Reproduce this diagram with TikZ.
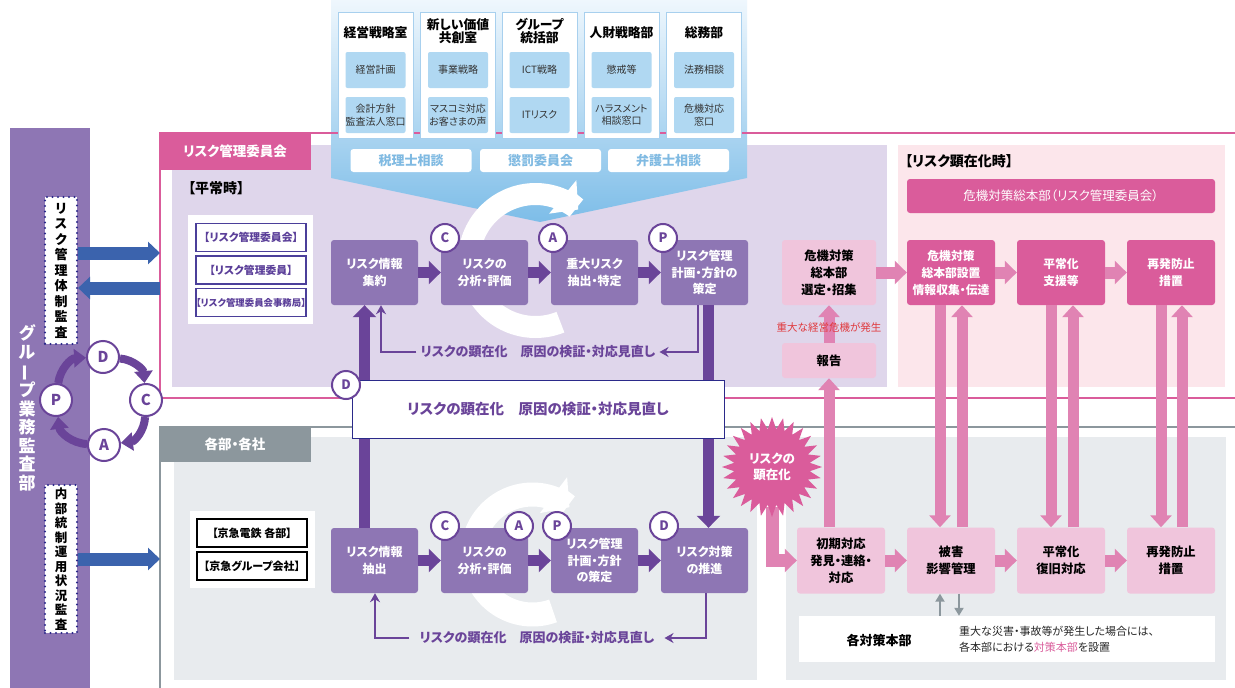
\documentclass[tikz,border=0pt]{standalone}
\usepackage{fontspec}
\setmainfont{Noto Sans CJK JP}[RawFeature={+palt}]
\usetikzlibrary{arrows.meta}
\definecolor{purpbox}{HTML}{8E76B4}
\definecolor{purpdk}{HTML}{6A4499}
\definecolor{lav}{HTML}{DFD6EB}
\definecolor{pinkdk}{HTML}{DA5C9B}
\definecolor{pinkarr}{HTML}{E083B3}
\definecolor{pinklt}{HTML}{F0C5DC}
\definecolor{pinkbg}{HTML}{FCE6EB}
\definecolor{graytab}{HTML}{8C979D}
\definecolor{graybg}{HTML}{E8EBEE}
\definecolor{bluearr}{HTML}{3B63AD}
\definecolor{bluelt}{HTML}{B0D8F2}
\definecolor{blueborder}{HTML}{A8D0EE}
\definecolor{bluetxt}{HTML}{80BAE2}
\definecolor{bluetop}{HTML}{EFF7FD}
\definecolor{bluebot}{HTML}{7DBDE8}
\definecolor{navy}{HTML}{2B2A8A}
\definecolor{redtxt}{HTML}{E03A3E}
\definecolor{listpurple}{HTML}{4B3F9A}
\definecolor{listtext}{HTML}{5B3F99}
\begin{document}
\begin{tikzpicture}[x=1pt,y=-1pt,
  pbox/.style={fill=purpbox, rounded corners=3pt, text=white, font=\fontsize{12}{16.5}\selectfont\bfseries, align=center, inner sep=0pt, minimum width=87pt, minimum height=65pt},
  rbox/.style={fill=pinkdk, rounded corners=3pt, text=white, font=\fontsize{11.8}{17}\selectfont\bfseries, align=center, inner sep=0pt, minimum width=88pt, minimum height=65pt},
  lbox/.style={fill=pinklt, rounded corners=3pt, text=black, font=\fontsize{12.3}{17}\selectfont\bfseries, align=center, inner sep=0pt, minimum width=88pt, minimum height=66pt},
  cyc/.style={circle, fill=white, draw=purpdk, line width=2pt, minimum size=28pt, inner sep=0pt, text=purpdk, font=\fontsize{13}{13}\selectfont\bfseries},
  parr/.style={draw=purpdk, line width=11pt, -{Triangle[width=23pt,length=12pt]}},
  pkarr/.style={draw=pinkarr, line width=12pt, -{Triangle[width=23pt,length=12pt]}},
  vkarr/.style={draw=pinkarr, line width=11pt, -{Triangle[width=21pt,length=12pt]}},
  fbl/.style={draw=purpdk, line width=2pt, -{Stealth[length=9pt,width=10pt]}},
  bla/.style={draw=bluearr, line width=13pt, -{Triangle[width=22pt,length=12pt]}},
  cyca/.style={draw=purpdk, line width=8pt, -{Triangle[width=18pt,length=12pt]}},
  ringarr/.style={draw=white, line width=22pt, -{Triangle[width=42pt,length=20pt]}},
  dept/.style={fill=white, draw=blueborder, line width=1pt, minimum width=75pt, minimum height=126pt, inner sep=0pt},
  inb/.style={fill=bluelt, rounded corners=2pt, minimum width=60pt, minimum height=36pt, inner sep=0pt, align=center, font=\fontsize{10}{12.5}\selectfont, text=black!80},
  dtitle/.style={align=center, font=\fontsize{12.8}{13.5}\selectfont\bfseries},
  btn/.style={fill=white, rounded corners=3pt, minimum width=121pt, minimum height=23pt, inner sep=0pt, text=bluetxt, font=\fontsize{13}{13}\selectfont\bfseries},
  audit/.style={fill=white, draw=navy, line width=2.2pt, dash pattern=on 0pt off 5.5pt, line cap=round, minimum width=32pt, inner sep=0pt, align=center, font=\fontsize{13}{15.5}\selectfont\bfseries},
  lst/.style={fill=white, draw=listpurple, line width=1.2pt, minimum width=110pt, minimum height=28pt, inner sep=0pt, text=listtext, font=\fontsize{10.8}{11}\selectfont\bfseries},
  lstk/.style={fill=white, draw=black, line width=1.2pt, minimum width=110pt, minimum height=28pt, inner sep=0pt, text=black, font=\fontsize{11}{11}\selectfont\bfseries},
  hdr/.style={font=\fontsize{14}{14}\selectfont\bfseries, anchor=west, inner sep=0pt},
  tabtxt/.style={text=white, font=\fontsize{13.5}{14}\selectfont\bfseries}
]
\useasboundingbox (0,0) rectangle (1235,688);
\fill[white] (0,0) rectangle (1235,688);

% ---------- backgrounds
\fill[lav] (172,145) rectangle (887,387);
\fill[pinkbg] (898,145) rectangle (1225,387);
\fill[graybg] (174,437) rectangle (757,680);
\fill[graybg] (786,437) rectangle (1226,680);
\shade[top color=bluetop, bottom color=bluebot] (331,0) -- (747,0) -- (747,178) -- (540,222) -- (331,178) -- cycle;
\draw[pinkdk, line width=2.5pt] (1240,133) -| (160,398) -- (1240,398);
\draw[graytab, line width=2.5pt] (160,690) -- (160,427) -- (1240,427);
\fill[pinkdk] (159,132) rectangle (311,170);
\node[tabtxt] (tabR) at (235,151.5) {リスク管理委員会};
\fill[graytab] (159,426) rectangle (311,462);
\node[tabtxt] (tabG) at (235,444.5) {各部・各社};

% ---------- left bar
\fill[purpbox] (10,128) rectangle (90,688);
\node[text=white, align=center, font=\fontsize{17}{18.5}\selectfont\bfseries] (gbar) at (27,408) {グ\\ル\\\rotatebox[origin=c]{90}{ー}\\プ\\業\\務\\監\\査\\部};

% ---------- department panel
\node[dept] (dep1) at (375.5,75) {};
\node[dtitle] (t1) at (375.5,33) {経営戦略室};
\node[inb] (i11) at (375.5,70) {経営計画};
\node[inb] (i12) at (375.5,115) {会計方針\\監査法人窓口};
\node[dept] (dep2) at (458,75) {};
\node[dtitle] (t2) at (458,31) {新しい価値\\共創室};
\node[inb] (i21) at (458,70) {事業戦略};
\node[inb] (i22) at (458,115) {マスコミ対応\\お客さまの声};
\node[dept] (dep3) at (539.5,75) {};
\node[dtitle] (t3) at (539.5,31) {グループ\\統括部};
\node[inb] (i31) at (539.5,70) {ICT戦略};
\node[inb] (i32) at (539.5,115) {ITリスク};
\node[dept] (dep4) at (621.5,75) {};
\node[dtitle] (t4) at (621.5,33) {人財戦略部};
\node[inb] (i41) at (621.5,70) {懲戒等};
\node[inb] (i42) at (621.5,115) {ハラスメント\\相談窓口};
\node[dept] (dep5) at (704,75) {};
\node[dtitle] (t5) at (704,33) {総務部};
\node[inb] (i51) at (704,70) {法務相談};
\node[inb] (i52) at (704,115) {危機対応\\窓口};
\node[btn] (b1) at (411,160.5) {税理士相談};
\node[btn] (b2) at (540.5,160.5) {懲罰委員会};
\node[btn] (b3) at (668.5,160.5) {弁護士相談};

% ---------- white rings (clockwise, arrow at upper right)
\draw[ringarr] plot[domain=68:310, samples=90, smooth] ({535.5+66.5*cos(\x)}, {260.5+66.5*sin(\x)});
\draw[ringarr, line width=24pt, -{Triangle[width=44pt,length=20pt]}] plot[domain=70:308, samples=90, smooth] ({532.5+60*cos(\x)}, {554.5+60*sin(\x)});

% ---------- headings and lists
\node[hdr] (h1) at (188,188) {【平常時】};
\node[hdr] (h2) at (905,161) {【リスク顕在化時】};
\fill[white] (188,215) rectangle (313,324);
\node[lst] (m1) at (251,237.5) {【リスク管理委員会】};
\node[lst] (m2) at (251,270) {【リスク管理委員】};
\node[lst, font=\fontsize{9.4}{10}\selectfont\bfseries] (m3) at (251,302.5) {【リスク管理委員会事務局】};
\fill[white] (190,511) rectangle (315,588);
\node[lstk] (k1) at (252,533) {【京急電鉄 各部】};
\node[lstk] (k2) at (252,566) {【京急グループ会社】};

% ---------- flow boxes
\node[pbox] (u1) at (374.5,272.5) {リスク情報\\集約};
\node[pbox] (u2) at (484.5,272.5) {リスクの\\分析・評価};
\node[pbox] (u3) at (594.5,272.5) {重大リスク\\抽出・特定};
\node[pbox] (u4) at (704.5,272.5) {リスク管理\\計画・方針の\\策定};
\node[pbox] (l1) at (374.5,560.5) {リスク情報\\抽出};
\node[pbox] (l2) at (484.5,560.5) {リスクの\\分析・評価};
\node[pbox] (l3) at (594.5,560.5) {リスク管理\\計画・方針\\の策定};
\node[pbox] (l4) at (704.5,560.5) {リスク対策\\の推進};

\node[lbox, minimum width=94pt, minimum height=65pt] (cs) at (829,272.5) {危機対策\\総本部\\選定・招集};
\node[lbox, minimum width=94pt, minimum height=35pt] (rep) at (829,360.5) {報告};
\node[rbox, minimum width=308pt, minimum height=34pt, font=\fontsize{12.5}{13}\selectfont] (rh) at (1061,196) {危機対策総本部（リスク管理委員会）};
\node[rbox] (r1) at (951,272.5) {危機対策\\総本部設置\\情報収集・伝達};
\node[rbox] (r2) at (1061,272.5) {平常化\\支援等};
\node[rbox] (r3) at (1171,272.5) {再発防止\\措置};
\node[lbox] (q1) at (841,560.5) {初期対応\\発見・連絡・\\対応};
\node[lbox] (q2) at (951,560.5) {被害\\影響管理};
\node[lbox] (q3) at (1061,560.5) {平常化\\復旧対応};
\node[lbox] (q4) at (1171,560.5) {再発防止\\措置};

% ---------- bottom info box
\node[fill=white, minimum width=416pt, minimum height=46pt, inner sep=0pt] (kb) at (1007,639) {};
\node[font=\fontsize{13}{13}\selectfont\bfseries] (kbt) at (879,640) {各対策本部};
\node[anchor=west, align=left, inner sep=0pt, font=\fontsize{11}{16}\selectfont, text=black!85] (kbd) at (959,639) {重大な災害・事故等が発生した場合には、\\各本部における\textcolor{pinkdk}{対策本部}を設置};

% ---------- purple arrows
\draw[parr] (u1.east) -- (u2.west);
\draw[parr] (u2.east) -- (u3.west);
\draw[parr] (u3.east) -- (u4.west);
\draw[parr] (l1.east) -- (l2.west);
\draw[parr] (l2.east) -- (l3.west);
\draw[parr] (l3.east) -- (l4.west);
\draw[parr] ([xshift=-10pt]l1.north) -- ([xshift=-10pt]u1.south);
\draw[parr] ([xshift=4pt]u4.south) -- ([xshift=4pt]l4.north);

% feedback loops
\node[text=purpdk, font=\fontsize{13}{13}\selectfont\bfseries, inner xsep=4pt] (fbU) at (538,352) {リスクの顕在化　原因の検証・対応見直し};
\draw[fbl] ([xshift=-6.5pt]u4.south) |- (fbU.east);
\draw[fbl] (fbU.west) -| ([xshift=6.5pt]u1.south);
\node[text=purpdk, font=\fontsize{13}{13}\selectfont\bfseries, inner xsep=10pt] (fbL) at (537,638) {リスクの顕在化　原因の検証・対応見直し};
\draw[fbl] ([xshift=1.5pt]l4.south) |- (fbL.east);
\draw[fbl] (fbL.west) -| ([xshift=0.5pt]l1.south);

% middle band
\node[fill=white, draw=navy, line width=1pt, minimum width=372pt, minimum height=58pt, inner sep=0pt, text=purpdk, font=\fontsize{14.5}{15}\selectfont\bfseries] (mid) at (538,409.5) {リスクの顕在化　原因の検証・対応見直し};

% ---------- pink arrows
\draw[pkarr] (cs.east) -- (r1.west);
\draw[pkarr] (r1.east) -- (r2.west);
\draw[pkarr] (r2.east) -- (r3.west);
\draw[pkarr] (q1.east) -- (q2.west);
\draw[pkarr] (q2.east) -- (q3.west);
\draw[pkarr] (q3.east) -- (q4.west);
\draw[vkarr] ([xshift=-11pt]r1.south) -- ([xshift=-11pt]q2.north);
\draw[vkarr] ([xshift=11pt]q2.north) -- ([xshift=11pt]r1.south);
\draw[vkarr] ([xshift=-10pt]r2.south) -- ([xshift=-10pt]q3.north);
\draw[vkarr] ([xshift=12pt]q3.north) -- ([xshift=12pt]r2.south);
\draw[vkarr] ([xshift=-10pt]r3.south) -- ([xshift=-10pt]q4.north);
\draw[vkarr] ([xshift=11pt]q4.north) -- ([xshift=11pt]r3.south);
\draw[vkarr] (rep.south |- q1.north) -- (rep.south);
\draw[vkarr] (rep.north) -- (cs.south);
\node[text=redtxt, font=\fontsize{10.5}{10}\selectfont] (crisis) at (829,328) {重大な経営危機が発生};

% small gray arrows
\coordinate (g1) at ([xshift=-11pt]q2.south);
\coordinate (g2) at ([xshift=8pt]q2.south);
\draw[graytab, line width=2.5pt, -{Triangle[width=9pt,length=8pt]}] (g1 |- kb.north) -- (g1);
\draw[graytab, line width=2.5pt, -{Triangle[width=9pt,length=8pt]}] (g2) -- (g2 |- kb.north);

% ---------- starburst
\node[circle, minimum size=80pt, inner sep=0pt] (star) at (772,467) {};
\draw[pkarr, line width=13pt] (star.south) |- (q1.west);
\fill[pinkdk, shift={(772,467)}] (0:50) \foreach \i in {0,...,27}{ -- ({\i*360/28}:50) -- ({(\i+0.5)*360/28}:38) } -- cycle;
\node[text=white, align=center, font=\fontsize{12.5}{16}\selectfont\bfseries] (startxt) at (star) {リスクの\\顕在化};

% ---------- circles
\node[cyc] (cU) at (445,238) {C};
\node[cyc] (aU) at (553,238) {A};
\node[cyc] (pU) at (663,238) {P};
\node[cyc] (cL) at (445,526) {C};
\node[cyc] (aL) at (519,526) {A};
\node[cyc] (pL) at (557,526) {P};
\node[cyc] (dL) at (664,526) {D};
\node[cyc] (dM) at (346,385) {D};

% ---------- audit boxes and blue arrows
\node[audit, minimum height=147pt] (aud1) at (61,270.5) {リ\\ス\\ク\\管\\理\\体\\制\\監\\査};
\node[audit, minimum height=148pt, font=\fontsize{12.5}{14.5}\selectfont\bfseries] (aud2) at (61,559) {内\\部\\統\\制\\運\\用\\状\\況\\監\\査};
\coordinate (f1) at (160,253);
\coordinate (f2) at (160,288);
\coordinate (f3) at (160,559);
\draw[bla] ([yshift=17.5pt]aud1.east) -- (f1);
\draw[bla] (f2) -- ([yshift=-17.5pt]aud1.east);
\draw[bla] (aud2.east) -- (f3);

% ---------- left PDCA cycle
\node[cyc, minimum size=32pt, font=\fontsize{15}{15}\selectfont\bfseries] (pd) at (103,357) {D};
\node[cyc, minimum size=32pt, font=\fontsize{15}{15}\selectfont\bfseries] (pc) at (146,400) {C};
\node[cyc, minimum size=32pt, font=\fontsize{15}{15}\selectfont\bfseries] (pa) at (104,445) {A};
\node[cyc, minimum size=32pt, font=\fontsize{15}{15}\selectfont\bfseries] (pp) at (56,400) {P};
\draw[cyca] (pd) to[bend left=40] (pc);
\draw[cyca] (pc) to[bend left=40] (pa);
\draw[cyca] (pa) to[bend left=40] (pp);
\draw[cyca] (pp) to[bend left=40] (pd);
\end{tikzpicture}
\end{document}
